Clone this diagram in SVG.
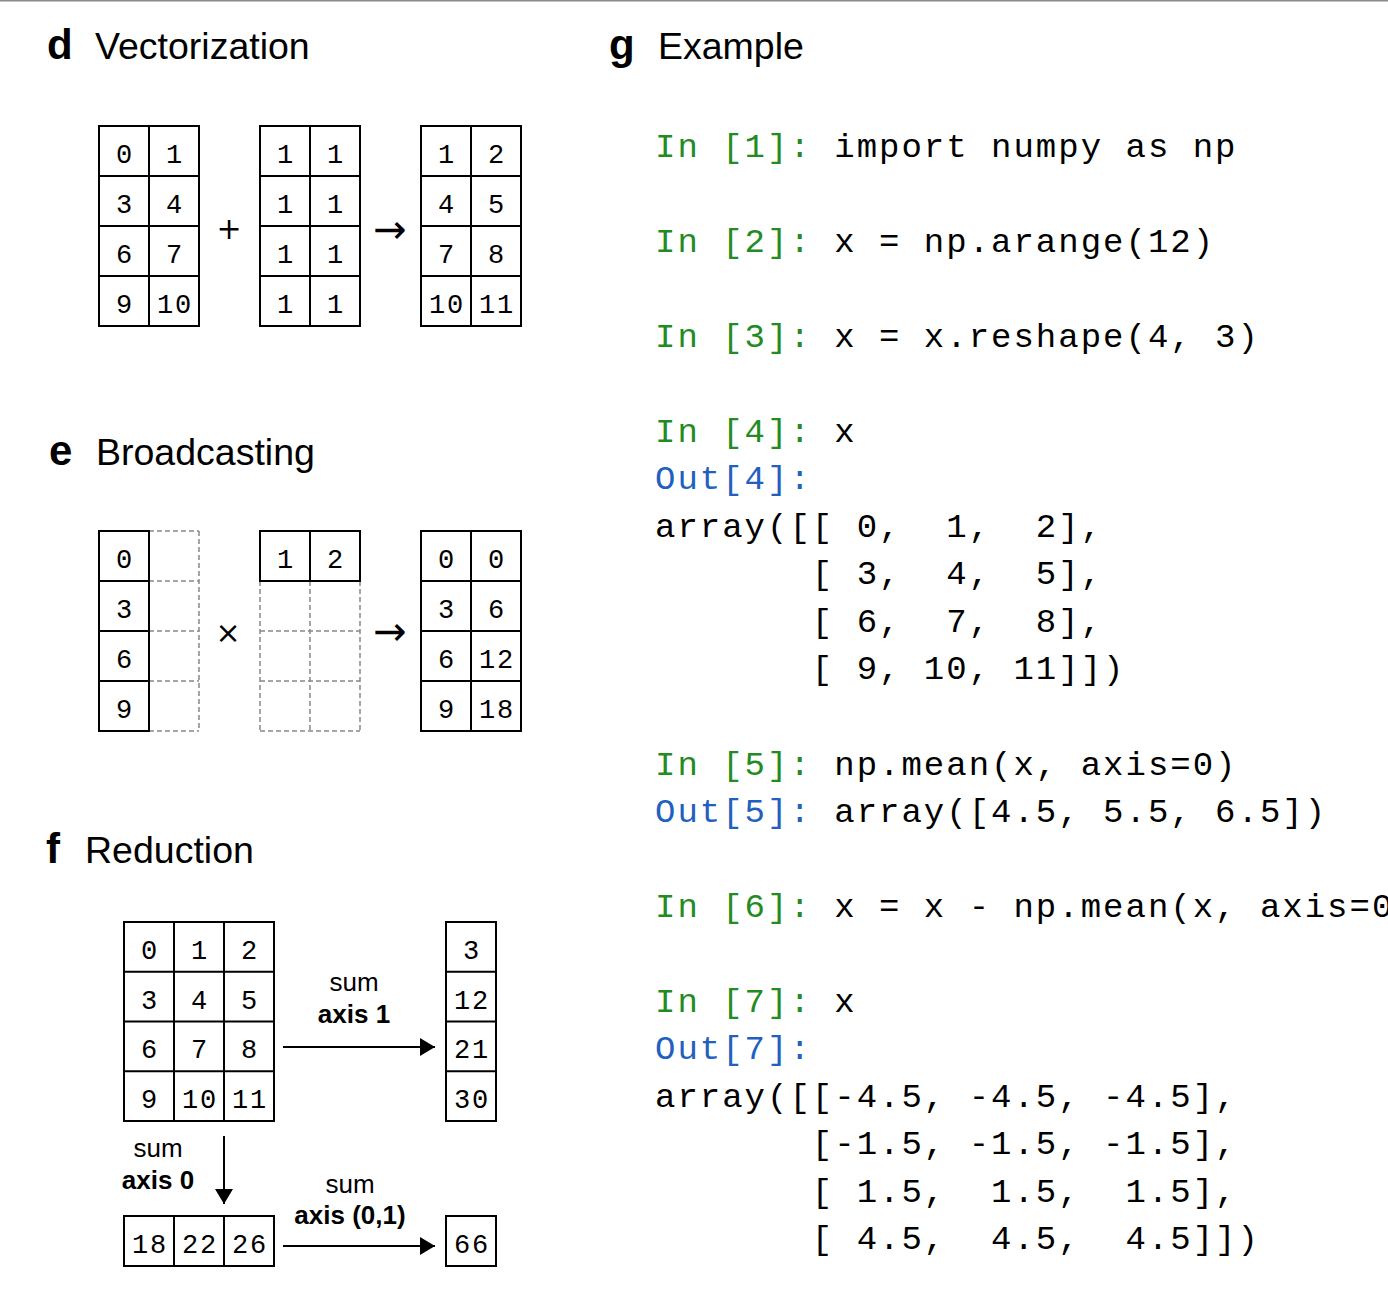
<svg xmlns="http://www.w3.org/2000/svg" width="1388" height="1294" viewBox="0 0 1388 1294">
<style>
.bg{fill:#fff}
.title{font-family:"Liberation Sans",Arial,sans-serif;font-size:37.5px;fill:#000}
.tl{font-family:"Liberation Sans",Arial,sans-serif;font-size:42px;font-weight:bold;fill:#000}
.cell{fill:none;stroke:#000;stroke-width:2}
.dash{fill:none;stroke:#888;stroke-width:1.5;stroke-dasharray:5 3}
.num{font-family:"Liberation Mono","Courier New",monospace;font-size:27px;letter-spacing:1.8px;text-anchor:middle;fill:#000}
.op{font-family:"DejaVu Sans","Liberation Sans",sans-serif;font-size:30px;text-anchor:middle;fill:#000}
.arr{font-family:"DejaVu Sans","Liberation Sans",sans-serif;font-size:40px;text-anchor:middle;fill:#000}
.lbl{font-family:"Liberation Sans",Arial,sans-serif;font-size:26px;text-anchor:middle;fill:#000}
.lblb{font-family:"Liberation Sans",Arial,sans-serif;font-size:26px;font-weight:bold;text-anchor:middle;fill:#000}
.code{font-family:"Liberation Mono","Courier New",monospace;font-size:34px;letter-spacing:2.0px;fill:#000;white-space:pre}
.in{fill:#228b22}
.out{fill:#2260c0}
.conn{stroke:#000;stroke-width:2;fill:none}
</style>
<defs>
<marker id="ah" markerUnits="userSpaceOnUse" markerWidth="16" markerHeight="18" refX="15" refY="9" orient="auto">
<path d="M0,0 L15,9 L0,18 Z" fill="#000"/>
</marker>
</defs>
<rect class="bg" x="0" y="0" width="1388" height="1294"/>
<line x1="0" y1="0.75" x2="1388" y2="0.75" stroke="#8a8a8a" stroke-width="1.5"/>

<!-- Titles -->
<g id="title-d"><text class="tl" x="47" y="59">d</text><text class="title" x="95" y="59">Vectorization</text></g>
<g id="title-e"><text class="tl" x="49" y="465">e</text><text class="title" x="96" y="465">Broadcasting</text></g>
<g id="title-f"><text class="tl" x="46" y="863">f</text><text class="title" x="85" y="863">Reduction</text></g>
<g id="title-g"><text class="tl" x="609" y="59">g</text><text class="title" x="658" y="59">Example</text></g>

<!-- Panel d -->
<g id="d-grid1">
<rect class="cell" x="99" y="126" width="100" height="200"/>
<path class="cell" d="M149,126V326M99,176H199M99,226H199M99,276H199"/>
<text class="num" x="125" y="163">0</text><text class="num" x="175" y="163">1</text>
<text class="num" x="125" y="213">3</text><text class="num" x="175" y="213">4</text>
<text class="num" x="125" y="263">6</text><text class="num" x="175" y="263">7</text>
<text class="num" x="125" y="313">9</text><text class="num" x="175" y="313">10</text>
</g>
<text class="op" x="229" y="239">+</text>
<g id="d-grid2">
<rect class="cell" x="260" y="126" width="100" height="200"/>
<path class="cell" d="M310,126V326M260,176H360M260,226H360M260,276H360"/>
<text class="num" x="286" y="163">1</text><text class="num" x="336" y="163">1</text>
<text class="num" x="286" y="213">1</text><text class="num" x="336" y="213">1</text>
<text class="num" x="286" y="263">1</text><text class="num" x="336" y="263">1</text>
<text class="num" x="286" y="313">1</text><text class="num" x="336" y="313">1</text>
</g>
<text class="arr" x="390" y="243">→</text>
<g id="d-grid3">
<rect class="cell" x="421" y="126" width="100" height="200"/>
<path class="cell" d="M471,126V326M421,176H521M421,226H521M421,276H521"/>
<text class="num" x="447" y="163">1</text><text class="num" x="497" y="163">2</text>
<text class="num" x="447" y="213">4</text><text class="num" x="497" y="213">5</text>
<text class="num" x="447" y="263">7</text><text class="num" x="497" y="263">8</text>
<text class="num" x="447" y="313">10</text><text class="num" x="497" y="313">11</text>
</g>

<!-- Panel e -->
<g id="e-grid1">
<path class="dash" d="M199,531V731M149,531H199M149,581H199M149,631H199M149,681H199M149,731H199"/>
<rect class="cell" x="99" y="531" width="50" height="200"/>
<path class="cell" d="M99,581H149M99,631H149M99,681H149"/>
<text class="num" x="125" y="568">0</text>
<text class="num" x="125" y="618">3</text>
<text class="num" x="125" y="668">6</text>
<text class="num" x="125" y="718">9</text>
</g>
<text class="op" x="228" y="643">×</text>
<g id="e-grid2">
<path class="dash" d="M260,581V731M310,581V731M360,581V731M260,631H360M260,681H360M260,731H360"/>
<rect class="cell" x="260" y="531" width="100" height="50"/>
<path class="cell" d="M310,531V581"/>
<text class="num" x="286" y="568">1</text><text class="num" x="336" y="568">2</text>
</g>
<text class="arr" x="390" y="645">→</text>
<g id="e-grid3">
<rect class="cell" x="421" y="531" width="100" height="200"/>
<path class="cell" d="M471,531V731M421,581H521M421,631H521M421,681H521"/>
<text class="num" x="447" y="568">0</text><text class="num" x="497" y="568">0</text>
<text class="num" x="447" y="618">3</text><text class="num" x="497" y="618">6</text>
<text class="num" x="447" y="668">6</text><text class="num" x="497" y="668">12</text>
<text class="num" x="447" y="718">9</text><text class="num" x="497" y="718">18</text>
</g>

<!-- Panel f -->
<g id="f-grid">
<rect class="cell" x="124" y="922" width="150" height="199"/>
<path class="cell" d="M174,922V1121M224,922V1121M124,971.75H274M124,1021.5H274M124,1071.25H274"/>
<text class="num" x="150" y="959">0</text><text class="num" x="200" y="959">1</text><text class="num" x="250" y="959">2</text>
<text class="num" x="150" y="1009">3</text><text class="num" x="200" y="1009">4</text><text class="num" x="250" y="1009">5</text>
<text class="num" x="150" y="1058">6</text><text class="num" x="200" y="1058">7</text><text class="num" x="250" y="1058">8</text>
<text class="num" x="150" y="1108">9</text><text class="num" x="200" y="1108">10</text><text class="num" x="250" y="1108">11</text>
</g>
<g id="f-axis1">
<rect class="cell" x="446" y="922" width="50" height="199"/>
<path class="cell" d="M446,971.75H496M446,1021.5H496M446,1071.25H496"/>
<text class="num" x="472" y="959">3</text>
<text class="num" x="472" y="1009">12</text>
<text class="num" x="472" y="1058">21</text>
<text class="num" x="472" y="1108">30</text>
</g>
<g id="f-axis0">
<rect class="cell" x="124" y="1216" width="150" height="50"/>
<path class="cell" d="M174,1216V1266M224,1216V1266"/>
<text class="num" x="150" y="1253">18</text><text class="num" x="200" y="1253">22</text><text class="num" x="250" y="1253">26</text>
</g>
<g id="f-all">
<rect class="cell" x="446" y="1216" width="50" height="50"/>
<text class="num" x="472" y="1253">66</text>
</g>
<g id="connectors">
<line class="conn" x1="283" y1="1047" x2="435" y2="1047" marker-end="url(#ah)"/>
<line class="conn" x1="224" y1="1136" x2="224" y2="1204" marker-end="url(#ah)"/>
<line class="conn" x1="283" y1="1246" x2="435" y2="1246" marker-end="url(#ah)"/>
<text class="lbl" x="354" y="991">sum</text>
<text class="lblb" x="354" y="1023">axis 1</text>
<text class="lbl" x="158" y="1157">sum</text>
<text class="lblb" x="158" y="1189">axis 0</text>
<text class="lbl" x="350" y="1193">sum</text>
<text class="lblb" x="350" y="1224">axis (0,1)</text>
</g>

<!-- Panel g -->
<g id="g-code">
<text class="code" x="655" y="157"><tspan class="in">In [1]:</tspan> import numpy as np</text>
<text class="code" x="655" y="252"><tspan class="in">In [2]:</tspan> x = np.arange(12)</text>
<text class="code" x="655" y="347"><tspan class="in">In [3]:</tspan> x = x.reshape(4, 3)</text>
<text class="code" x="655" y="442"><tspan class="in">In [4]:</tspan> x</text>
<text class="code" x="655" y="489"><tspan class="out">Out[4]:</tspan></text>
<text class="code" x="655" y="537">array([[ 0,  1,  2],</text>
<text class="code" x="655" y="584">       [ 3,  4,  5],</text>
<text class="code" x="655" y="632">       [ 6,  7,  8],</text>
<text class="code" x="655" y="679">       [ 9, 10, 11]])</text>
<text class="code" x="655" y="775"><tspan class="in">In [5]:</tspan> np.mean(x, axis=0)</text>
<text class="code" x="655" y="822"><tspan class="out">Out[5]:</tspan> array([4.5, 5.5, 6.5])</text>
<text class="code" x="655" y="917"><tspan class="in">In [6]:</tspan> x = x - np.mean(x, axis=0)</text>
<text class="code" x="655" y="1012"><tspan class="in">In [7]:</tspan> x</text>
<text class="code" x="655" y="1059"><tspan class="out">Out[7]:</tspan></text>
<text class="code" x="655" y="1107">array([[-4.5, -4.5, -4.5],</text>
<text class="code" x="655" y="1154">       [-1.5, -1.5, -1.5],</text>
<text class="code" x="655" y="1202">       [ 1.5,  1.5,  1.5],</text>
<text class="code" x="655" y="1249">       [ 4.5,  4.5,  4.5]])</text>
</g>
</svg>
